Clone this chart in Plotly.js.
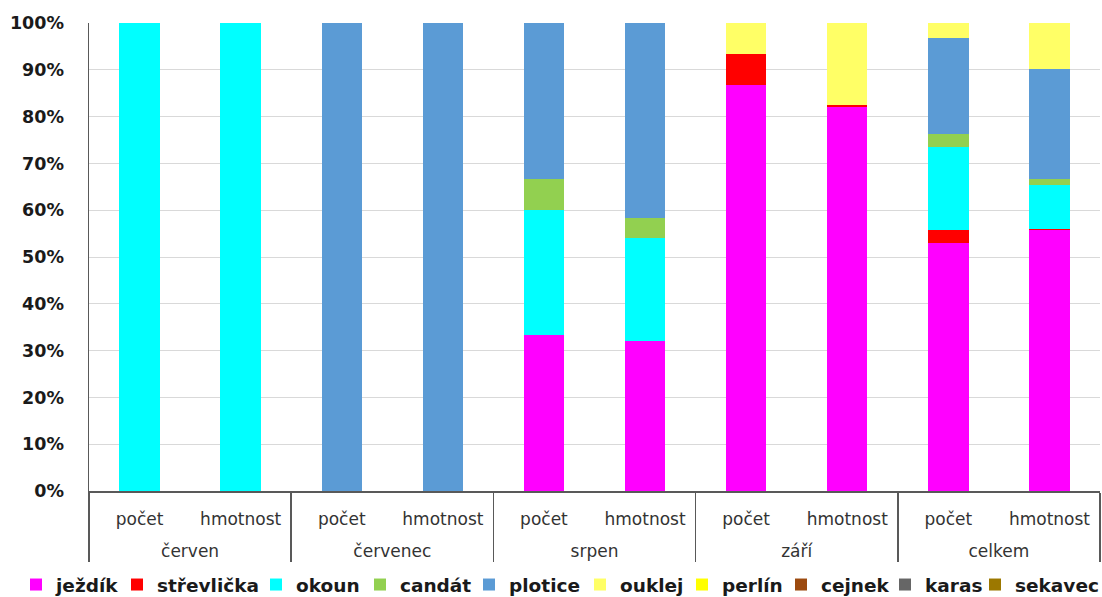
<!DOCTYPE html>
<html>
<head>
<meta charset="utf-8">
<script src="https://cdn.plot.ly/plotly-3.0.1.min.js"></script>
<style>
  html, body { margin: 0; padding: 0; background: #fff; }
  #chart { width: 1102px; height: 597px; }
</style>
</head>
<body>
<div id="chart"></div>
<script>
// Months (outer level) and measure (inner level) of the category axis
const months = ["červen", "červen", "červenec", "červenec", "srpen", "srpen", "září", "září", "celkem", "celkem"];
const measures = ["počet", "hmotnost", "počet", "hmotnost", "počet", "hmotnost", "počet", "hmotnost", "počet", "hmotnost"];

// Species shares in percent, in column order above
const jezdik     = [0, 0, 0, 0, 33.3, 32.1, 86.7, 82.1, 52.9, 55.8];
const strevlicka = [0, 0, 0, 0, 0, 0, 6.7, 0.3, 2.9, 0.1];
const okoun      = [100, 100, 0, 0, 26.7, 22.0, 0, 0, 17.6, 9.4];
const candat     = [0, 0, 0, 0, 6.7, 4.2, 0, 0, 2.9, 1.3];
const plotice    = [0, 0, 100, 100, 33.3, 41.7, 0, 0, 20.6, 23.6];
const ouklej     = [0, 0, 0, 0, 0, 0, 6.6, 17.6, 3.1, 9.8];
const perlin     = [0, 0, 0, 0, 0, 0, 0, 0, 0, 0];
const cejnek     = [0, 0, 0, 0, 0, 0, 0, 0, 0, 0];
const karas      = [0, 0, 0, 0, 0, 0, 0, 0, 0, 0];
const sekavec    = [0, 0, 0, 0, 0, 0, 0, 0, 0, 0];

// Percent axis tick labels
const yTickVals = [0, 0.1, 0.2, 0.3, 0.4, 0.5, 0.6, 0.7, 0.8, 0.9, 1];
const yTickText = ["0%", "10%", "20%", "30%", "40%", "50%", "60%", "70%", "80%", "90%", "100%"];

const seriesNames = ["ježdík", "střevlička", "okoun", "candát", "plotice", "ouklej", "perlín", "cejnek", "karas", "sekavec"];
const seriesValues = [jezdik, strevlicka, okoun, candat, plotice, ouklej, perlin, cejnek, karas, sekavec];
const seriesColors = ["#ff00ff", "#ff0000", "#00ffff", "#92d050", "#5b9bd5", "#ffff66", "#ffff00", "#9c4a0f", "#666666", "#9c7800"];

// Left edge (px) of each legend entry along the bottom row
const legendLeft = [16, 117, 256, 360, 469, 580, 682, 781, 885, 975];

const legendId = i => (i === 0 ? "legend" : "legend" + (i + 1));

// Month labels sit one text line lower than the measure labels
const monthLabels = months.map(m => "<br>" + m);

const traces = seriesNames.map((name, i) => ({
  type: "bar",
  name: name,
  x: [monthLabels, measures],
  y: seriesValues[i].map(v => v / 100),
  marker: { color: seriesColors[i], line: { width: 0 } },
  legend: legendId(i),
  hovertemplate: "%{y:.1%}<extra>" + name + "</extra>"
}));

const layout = {
  width: 1102,
  height: 597,
  barmode: "stack",
  bargap: 0.6,
  paper_bgcolor: "#ffffff",
  plot_bgcolor: "#ffffff",
  margin: { l: 89, r: 2, t: 23, b: 106, autoexpand: false },
  font: { family: "DejaVu Sans, sans-serif", color: "#333333" },
  xaxis: {
    type: "multicategory",
    showline: true,
    linecolor: "#595959",
    linewidth: 1.5,
    ticks: "",
    showdividers: true,
    dividercolor: "#595959",
    dividerwidth: 1.5,
    ticklabelstandoff: 12,
    tickfont: { family: "DejaVu Sans, sans-serif", size: 17, color: "#333333" },
    showgrid: false,
    zeroline: false
  },
  yaxis: {
    range: [0, 1],
    tickvals: yTickVals,
    ticktext: yTickText,
    tickfont: { family: "DejaVu Sans, sans-serif", size: 17.5, color: "#1a1a1a", weight: "bold" },
    ticklabelstandoff: 20,
    showgrid: true,
    gridcolor: "#d9d9d9",
    gridwidth: 1,
    showline: true,
    linecolor: "#595959",
    linewidth: 1.5,
    zeroline: false,
    ticks: "",
    ticklen: 0
  },
  showlegend: true
};

// One single-entry legend per species, laid out in a row below the axis
seriesNames.forEach((name, i) => {
  layout[legendId(i)] = {
    orientation: "h",
    xref: "container",
    yref: "container",
    x: legendLeft[i] / 1102,
    xanchor: "left",
    y: 12 / 597,
    yanchor: "middle",
    font: { family: "DejaVu Sans, sans-serif", size: 18.5, color: "#1a1a1a", weight: "bold" },
    itemwidth: 30,
    bgcolor: "rgba(0,0,0,0)"
  };
});

Plotly.newPlot("chart", traces, layout, { displayModeBar: false, staticPlot: true });
</script>
</body>
</html>
